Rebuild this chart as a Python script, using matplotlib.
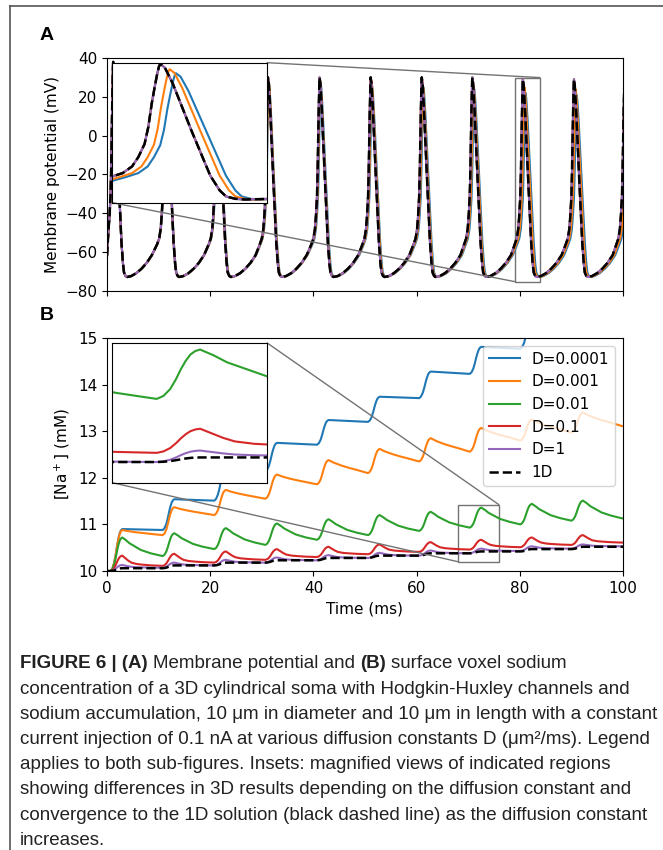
import matplotlib
matplotlib.use("Agg")
import matplotlib.pyplot as plt
from matplotlib.lines import Line2D
from mpl_toolkits.axes_grid1.inset_locator import mark_inset

# ---- data ----
labels = ["D=0.0001", "D=0.001", "D=0.01", "D=0.1", "D=1", "1D"]
colors = ["#1f77b4", "#ff7f0e", "#2ca02c", "#d62728", "#9467bd", "black"]

# (A) spike peak times (ms) per trace
spk_blue = [1.2, 11.35, 21.4, 31.35, 41.4, 51.35, 61.3, 71.15, 81.1, 91.0, 100.9]
spk_orange = [1.2, 11.33, 21.36, 31.3, 41.3, 51.25, 61.17, 71.0, 80.9, 90.8, 100.65]
spk_1d = [1.2, 11.3, 21.3, 31.2, 41.2, 51.1, 61.0, 70.8, 80.6, 90.5, 100.3]
# (A) spike peak heights (mV)
pk_blue = [38, 30, 29, 28, 27, 26, 25, 24, 22, 21, 21]
pk_orange = [38, 30, 29, 29, 28, 28, 27, 26, 25, 24, 24]
pk_1d = [38, 30, 30, 30, 30, 30, 30, 30, 29, 29, 29]

# spike waveform (ms after peak, mV)
fall_dt = [0.15, 0.4, 1.0, 1.6, 1.9, 2.1, 2.4, 2.7, 3.5, 4.5, 5.5, 6.5, 7.5]
fall_v = [27, 15, -21, -55, -66, -70.5, -72.3, -72.8, -72.3, -70.8, -68.5, -65.5, -61.5]
# upstroke (ms before next peak, mV)
up_dt = [-1.6, -1.2, -0.9, -0.7, -0.5, -0.38, -0.27, -0.18, -0.1, -0.04]
up_v = [-56, -53, -48, -41, -31, -18, 0, 12, 22, 28]

# (B) sodium: value after each spike / just before the next one (mM)
blue_pk = [10.90, 11.54, 12.17, 12.75, 13.24, 13.74, 14.28, 14.81, 15.35, 15.90]
blue_tr = [10.88, 11.51, 12.14, 12.71, 13.20, 13.71, 14.23, 14.77, 15.30, 15.85]
orange_pk = [10.88, 11.37, 11.74, 12.07, 12.38, 12.62, 12.85, 13.07, 13.25, 13.40]
orange_tr = [10.77, 11.20, 11.55, 11.86, 12.10, 12.35, 12.56, 12.80, 12.97, 13.11]
green_pk = [10.72, 10.81, 10.92, 11.02, 11.11, 11.20, 11.27, 11.36, 11.44, 11.51]
green_tr = [10.32, 10.47, 10.56, 10.67, 10.77, 10.86, 10.93, 11.00, 11.08, 11.13]
red_pk = [10.33, 10.37, 10.42, 10.47, 10.52, 10.57, 10.62, 10.67, 10.72, 10.77]
red_tr = [10.11, 10.18, 10.24, 10.30, 10.36, 10.41, 10.46, 10.51, 10.56, 10.61]
purple_pk = [10.13, 10.18, 10.24, 10.29, 10.34, 10.39, 10.44, 10.48, 10.53, 10.57]
purple_tr = [10.07, 10.12, 10.18, 10.23, 10.28, 10.33, 10.38, 10.43, 10.48, 10.53]
oned_lv = [10.06, 10.12, 10.18, 10.23, 10.28, 10.33, 10.38, 10.42, 10.47, 10.52]

# rise shape (ms from start, fraction) and decay shapes (ms after peak, fraction)
rise_dt = [0, 0.35, 0.7, 1.0, 1.25, 1.5, 1.75, 2.0, 2.25]
rise_f = [0, 0.06, 0.2, 0.4, 0.6, 0.77, 0.9, 0.97, 1.0]
dec_lin = ([], [])
dec_orange = ([1.0, 2.5, 4.0, 5.5], [0.2, 0.42, 0.6, 0.76])
dec_green = ([0.7, 1.4, 2.2, 3.6, 5.5], [0.14, 0.31, 0.44, 0.67, 0.85])
dec_red = ([0.6, 1.2, 1.8, 2.8, 3.9, 5.5], [0.25, 0.5, 0.69, 0.82, 0.88, 0.95])

captions = [
    [("FIGURE 6 | (A)", "bold"), ("Membrane potential and", "normal"), ("(B)", "bold"),
     ("surface voxel sodium", "normal")],
    [("concentration of a 3D cylindrical soma with Hodgkin-Huxley channels and", "normal")],
    [("sodium accumulation, 10 \u03bcm in diameter and 10 \u03bcm in length with a constant", "normal")],
    [("current injection of 0.1 nA at various diffusion constants D (\u03bcm\u00b2/ms). Legend", "normal")],
    [("applies to both sub-figures. Insets: magnified views of indicated regions", "normal")],
    [("showing differences in 3D results depending on the diffusion constant and", "normal")],
    [("convergence to the 1D solution (black dashed line) as the diffusion constant", "normal")],
    [("increases.", "normal")],
]


def membrane(peaks, heights):
    def sc(v, h):
        return v if v <= -40 else -40 + (v + 40) * (h + 40) / 70.0
    t, v = [0.0], [-62.0]
    for dt, vv in zip(up_dt, up_v):
        if peaks[0] + dt > 0:
            t.append(peaks[0] + dt); v.append(sc(vv, heights[0]))
    for k, tp in enumerate(peaks):
        h = heights[k]
        t.append(tp); v.append(h)
        nxt = peaks[k + 1] if k + 1 < len(peaks) else None
        for dt, vv in zip(fall_dt, fall_v):
            if nxt is None and tp + dt > 101:
                break
            if nxt is not None and tp + dt >= nxt + up_dt[0]:
                break
            t.append(tp + dt); v.append(sc(vv, h))
        if nxt is not None:
            for dt, vv in zip(up_dt, up_v):
                t.append(nxt + dt); v.append(sc(vv, heights[k + 1]))
    return t, v


def sodium(pk, tr, dec):
    t, c = [0.0], [10.0]
    lo = 10.0
    for k in range(len(pk)):
        t0 = spk_1d[k] - 0.5
        for dt, f in zip(rise_dt, rise_f):
            t.append(t0 + dt); c.append(lo + f * (pk[k] - lo))
        tpk = t0 + rise_dt[-1]
        tn = spk_1d[k + 1] - 0.5
        for dt, f in zip(*dec):
            if tpk + dt < tn:
                t.append(tpk + dt); c.append(pk[k] - f * (pk[k] - tr[k]))
        t.append(tn); c.append(tr[k])
        lo = tr[k]
    t.append(100.5); c.append(lo)
    return t, c


W, H = 663, 850
fig = plt.figure(figsize=(W / 100, H / 100), dpi=100)
plt.rcParams["font.size"] = 11

# frame around the figure
fig.add_artist(Line2D([10 / W, 10 / W], [0, 1 - 6 / H], color="#555555", lw=1.2))
fig.add_artist(Line2D([10 / W, 1], [1 - 6 / H, 1 - 6 / H], color="#555555", lw=1.2))

axA = fig.add_axes([107 / W, 1 - 291 / H, 516 / W, 233 / H])
axB = fig.add_axes([107 / W, 1 - 571 / H, 516 / W, 233 / H])

tracesA = [membrane(spk_blue, pk_blue), membrane(spk_orange, pk_orange),
           membrane(spk_1d, pk_1d), membrane(spk_1d, pk_1d),
           membrane(spk_1d, pk_1d), membrane(spk_1d, pk_1d)]
tracesB = [sodium(blue_pk, blue_tr, dec_lin), sodium(orange_pk, orange_tr, dec_orange),
           sodium(green_pk, green_tr, dec_green), sodium(red_pk, red_tr, dec_red),
           sodium(purple_pk, purple_tr, dec_red), sodium(oned_lv, oned_lv, dec_lin)]

insA = axA.inset_axes([0.0103, 0.379, 0.2992, 0.601])
insB = axB.inset_axes([0.0103, 0.379, 0.2992, 0.601])

for ax_list, traces in [((axA, insA), tracesA), ((axB, insB), tracesB)]:
    for (t, v), lab, col in zip(traces, labels, colors):
        for a in ax_list:
            if lab == "1D":
                a.plot(t, v, "--", color=col, lw=1.8, label=lab)
            else:
                a.plot(t, v, color=col, lw=1.5, label=lab)

axA.set_xlim(0, 100)
axA.set_ylim(-80, 40)
axA.set_yticks(range(-80, 41, 20))
axA.set_xticks(range(0, 101, 20))
axA.tick_params(labelbottom=False)
axA.set_ylabel("Membrane potential (mV)")

axB.set_xlim(0, 100)
axB.set_ylim(10, 15)
axB.set_xticks(range(0, 101, 20))
axB.set_yticks(range(10, 16))
axB.set_xlabel("Time (ms)")
axB.set_ylabel("[Na$^+$] (mM)")
axB.legend(loc="upper right")

insA.set_xlim(79.07, 84.0)
insA.set_ylim(-75.2, 29.9)
insB.set_xlim(68.0, 76.0)
insB.set_ylim(10.2, 11.42)
for a in (insA, insB):
    a.set_xticks([])
    a.set_yticks([])
mark_inset(axA, insA, loc1=1, loc2=3, fc="none", ec="0.45", lw=1)
mark_inset(axB, insB, loc1=1, loc2=3, fc="none", ec="0.45", lw=1)

fig.text(40 / W, 1 - 36 / H, "A", family="Liberation Sans", weight="bold", size=14, va="center")
fig.text(40 / W, 1 - 316 / H, "B", family="Liberation Sans", weight="bold", size=14, va="center")

# caption, with bold parts placed one after another
cap_font = ["Liberation Sans", "DejaVu Sans"]
renderer = fig.canvas.get_renderer()
probe = fig.text(0, 0, "a a", family=cap_font, size=13.5)
w2 = probe.get_window_extent(renderer).width
probe.set_text("aa")
space = w2 - probe.get_window_extent(renderer).width
probe.remove()
for i, segs in enumerate(captions):
    x = 20.0
    y = 1 - (662 + 25.2 * i) / H
    for s, wt in segs:
        txt = fig.text(x / W, y, s, family=cap_font, weight=wt, size=13.5,
                       color="#222222", va="center_baseline")
        bb = txt.get_window_extent(renderer)
        x = bb.x1 + space

fig.savefig("out.png", dpi=100)
